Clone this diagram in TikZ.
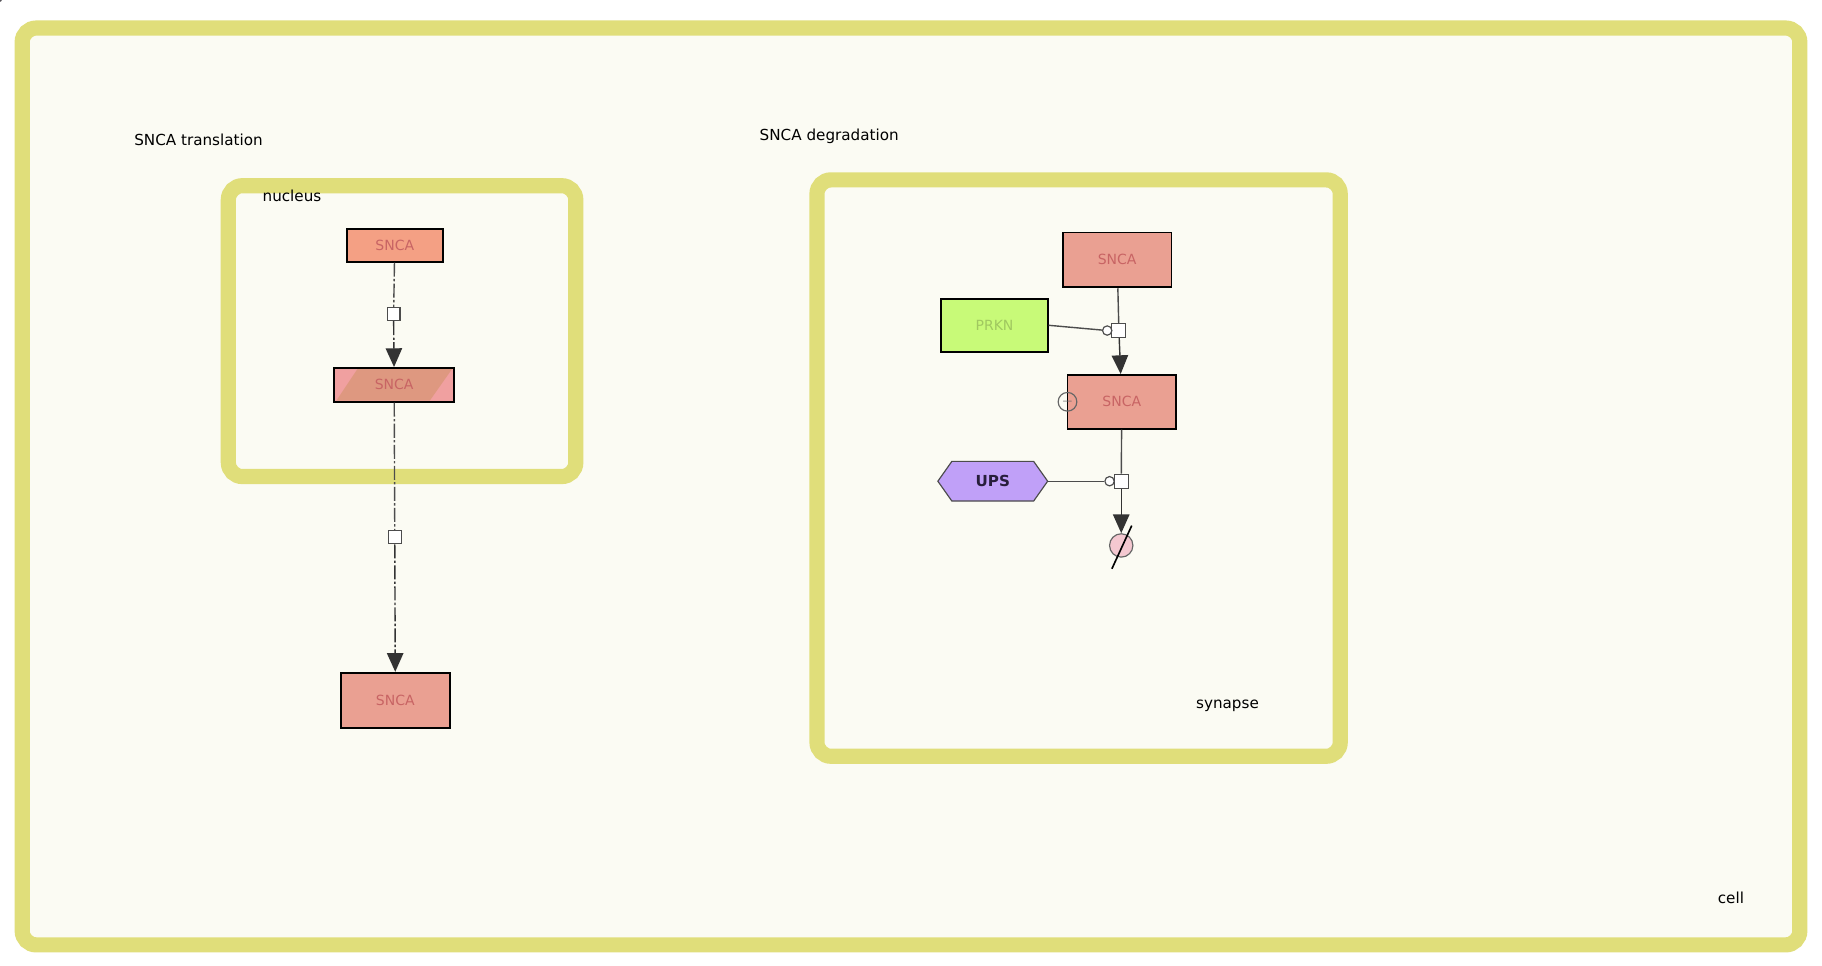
\documentclass[tikz,border=0pt]{standalone}
\usepackage{fontspec}
\setmainfont{DejaVu Sans}
\usetikzlibrary{arrows.meta,shapes.geometric}
\definecolor{cmpB}{RGB}{224,222,122}
\definecolor{cmpF}{RGB}{251,251,243}
\definecolor{salm}{RGB}{234,160,146}
\definecolor{salmO}{RGB}{244,160,132}
\definecolor{txtR}{RGB}{200,100,100}
\begin{document}
\begin{tikzpicture}[x=0.5pt,y=-0.5pt,
  comp/.style={draw=cmpB,line width=6.5pt,fill=cmpF,rounded corners=6pt},
  lab/.style={font=\fontsize{6.5}{7}\selectfont,text=black},
  mac/.style={draw=black,line width=0.8pt,font=\fontsize{6}{7}\selectfont,text=txtR,inner sep=0pt},
  proc/.style={draw=black!70,fill=white,minimum size=5.5pt,inner sep=0pt,line width=0.5pt},
  cat/.style={draw=black!70,fill=white,circle,minimum size=4pt,inner sep=0pt,line width=0.5pt},
  arr/.style={-{Triangle[length=8pt,width=7pt]},line width=0.6pt,black!80},
  dd/.style={dash pattern=on 6pt off 1pt on 1pt off 1pt},
  ln/.style={line width=0.6pt,black!70}]
\useasboundingbox (0,0) rectangle (1560,827);
\fill[white] (0,0) rectangle (1560,827);
\draw[comp] (19,24) rectangle (1541,809);
\node[lab] (cell) at (1482,769) {cell};
\node[lab] (t1) at (170,120) {SNCA translation};
\node[lab] (t2) at (710,117) {SNCA degradation};
% nucleus
\draw[comp] (195.5,159) rectangle (493,408);
\node[lab] (nuc) at (250,168) {nucleus};
% synapse
\draw[comp] (699.5,154) rectangle (1147.5,647.5);
\node[lab] (syn) at (1051,604) {synapse};
% translation
\node[mac,fill=salmO,minimum width=41pt,minimum height=14pt] (s1) at (338,210) {SNCA};
\node[proc] (p1) at (337,269) {};
\node[mac,fill={rgb,255:red,240;green,160;blue,160},minimum width=51.5pt,minimum height=14.5pt] (s2) at (337.5,329.5) {};
\fill[fill={rgb,255:red,222;green,152;blue,128}] (306,316) -- (387,316) -- (368,343) -- (288,343) -- cycle;
\draw[line width=0.8pt] (286,315) rectangle (389,344);
\node[font=\fontsize{6}{7}\selectfont,text=txtR] at (337.5,329.5) {SNCA};
\node[proc] (p2) at (338,460) {};
\node[mac,fill=salm,minimum width=46.5pt,minimum height=23.5pt] (s3) at (338.5,599.5) {SNCA};
\draw[ln,dd] (s1) -- (p1);
\draw[arr,dd] (p1) -- (s2);
\draw[ln,dd] (s2) -- (p2);
\draw[arr,dd] (p2) -- (s3);
% degradation
\node[mac,fill=salm,minimum width=46.5pt,minimum height=23.5pt] (d1) at (956.5,222.5) {SNCA};
\node[mac,fill={rgb,255:red,200;green,250;blue,120},text={rgb,255:red,160;green,200;blue,96},minimum width=45.5pt,minimum height=22.5pt] (prkn) at (851.5,278.5) {PRKN};
\node[proc,minimum size=6pt] (p3) at (958,283) {};
\node[cat] (c3) at (948,283) {};
\node[mac,fill=salm,minimum width=46.5pt,minimum height=23pt] (d2) at (960.5,344) {SNCA};
\node[draw=black!60,circle,minimum size=8pt,inner sep=0pt,line width=0.5pt,font=\fontsize{5}{5}\selectfont,text=black!60] (st) at (914,344) {$-$};
\node[draw=black!70,fill={rgb,255:red,192;green,160;blue,248},regular polygon,regular polygon sides=6,shape border rotate=0,minimum width=0pt,inner sep=0pt,line width=0.5pt,xscale=1,minimum size=1pt] (dummy) at (0,0) {};
\draw[black!70,line width=0.5pt,fill={rgb,255:red,192;green,160;blue,248}] (803,412) -- (815,395) -- (885,395) -- (897,412) -- (885,429) -- (815,429) -- cycle;
\node[font=\bfseries\fontsize{6.5}{7}\selectfont,text={rgb,255:red,40;green,30;blue,60},minimum width=47pt,minimum height=17pt] (ups) at (850,412) {UPS};
\node[proc,minimum size=6pt] (p4) at (960,412) {};
\node[cat] (c4) at (950,412) {};
\node[draw=black!60,fill={rgb,255:red,244;green,200;blue,208},circle,minimum size=10pt,inner sep=0pt,line width=0.5pt] (sink) at (960,467) {};
\draw[black,line width=0.7pt] (952,487) -- (969,450);
\draw[ln] (d1) -- (p3);
\draw[arr] (p3) -- (d2);
\draw[ln] (prkn.east) -- (c3);
\draw[ln] (d2) -- (p4);
\draw[arr] (p4) -- (sink);
\draw[ln] (ups.east) -- (c4);
\end{tikzpicture}
\end{document}
